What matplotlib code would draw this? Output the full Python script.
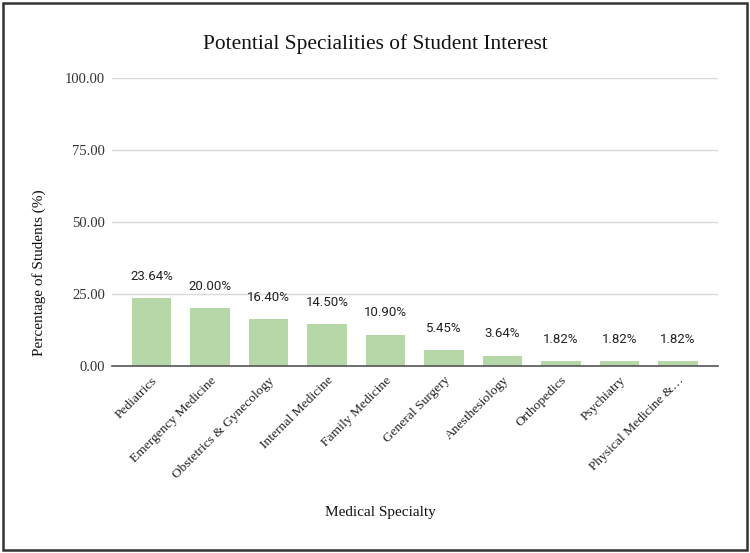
import numpy as np
import matplotlib.pyplot as plt
from matplotlib.patches import Rectangle

specialties = ['Pediatrics', 'Emergency Medicine', 'Obstetrics & Gynecology',
               'Internal Medicine', 'Family Medicine', 'General Surgery',
               'Anesthesiology', 'Orthopedics', 'Psychiatry',
               'Physical Medicine &\u2026']
percentages = [23.64, 20.00, 16.40, 14.50, 10.90, 5.45, 3.64, 1.82, 1.82, 1.82]
y_ticks = [0, 25, 50, 75, 100]

serif = 'Liberation Serif'
sans = 'Roboto'

fig = plt.figure(figsize=(7.5, 5.53), dpi=100)
ax = fig.add_axes([0.149, 0.338, 0.808, 0.521])

x = np.arange(len(specialties))
bars = ax.bar(x, percentages, width=0.68, color='#b6d7a8', zorder=3)

for xi, v in zip(x, percentages):
    ax.annotate(f'{v:.2f}%', (xi, v), xytext=(0, 11), textcoords='offset points',
                ha='center', va='bottom', fontsize=9.5, family=sans, color='#222222')

ax.set_ylim(0, 100)
ax.set_xlim(-0.68, len(specialties) - 0.32)
ax.set_yticks(y_ticks)
ax.set_yticklabels([f'{t:.2f}' for t in y_ticks], family=serif, fontsize=10.5, color='#333333')
ax.set_xticks(x)
ax.set_xticklabels(specialties, rotation=45, ha='right', va='top', rotation_mode='anchor',
                   family=serif, fontsize=9.7, color='#222222')
ax.tick_params(length=0, axis='y', pad=5)
ax.tick_params(length=0, axis='x', pad=6)

ax.grid(axis='y', color='#d9d9d9', linewidth=1, zorder=0)
for side in ['top', 'right', 'left']:
    ax.spines[side].set_visible(False)
ax.spines['bottom'].set_color('#555555')
ax.spines['bottom'].set_linewidth(1.2)
ax.spines['bottom'].set_zorder(4)

fig.text(0.501, 0.92, 'Potential Specialities of Student Interest', ha='center', va='center',
         family=serif, fontsize=15.4, color='#111111')
fig.text(0.052, 0.507, 'Percentage of Students (%)', rotation=90, ha='center', va='center',
         family=serif, fontsize=11, color='#111111')
fig.text(0.507, 0.074, 'Medical Specialty', ha='center', va='center',
         family=serif, fontsize=11, color='#111111')

fig.patches.append(Rectangle((0.004, 0.006), 0.992, 0.988, transform=fig.transFigure,
                             fill=False, edgecolor='#333333', linewidth=1.8))

fig.savefig('out.png', dpi=100)
